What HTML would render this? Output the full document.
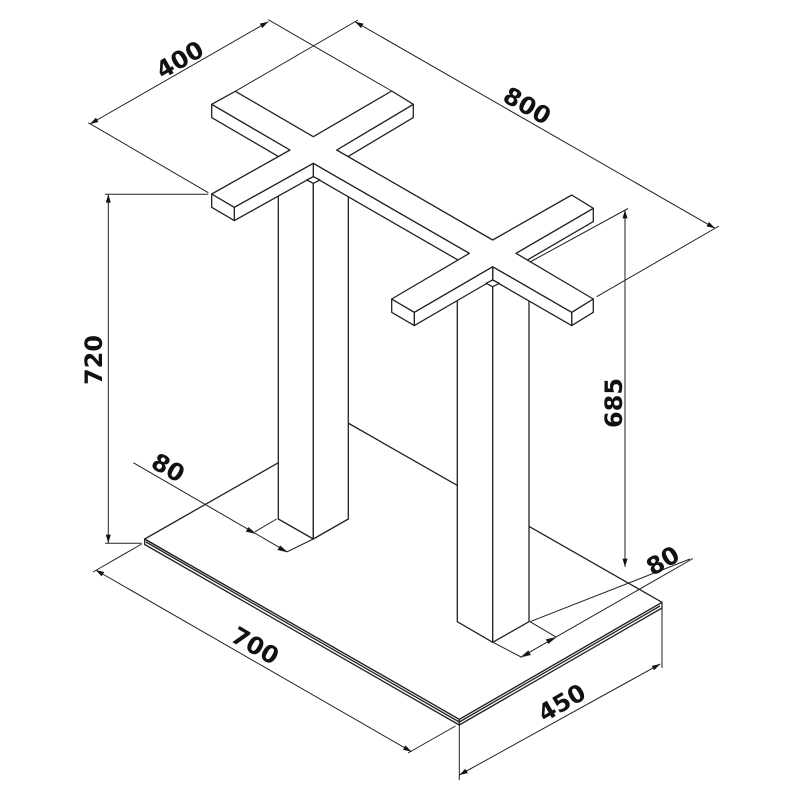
<!DOCTYPE html>
<html><head><meta charset="utf-8"><style>
html,body{margin:0;padding:0;background:#fff;}
svg{display:block;}
text{font-family:"DejaVu Sans","Liberation Sans",sans-serif;font-weight:bold;font-size:24px;fill:#111;}
</style></head><body>
<svg width="800" height="800" viewBox="0 0 800 800" xmlns="http://www.w3.org/2000/svg">
<defs>
<marker id="ar" viewBox="0 0 10 6" refX="10" refY="3" markerWidth="9" markerHeight="5" markerUnits="userSpaceOnUse" orient="auto-start-reverse">
<path d="M0,0 L10,3 L0,6 z" fill="#111"/></marker>
</defs>
<g stroke="#222" stroke-width="1.3" fill="#fff" stroke-linejoin="round">
<!-- base -->
<polygon points="144.7,539 459.3,719.3 459.3,725 144.7,544.5"/>
<polygon points="459.3,719.3 662,602.3 662,608 459.3,725"/>
<polygon points="144.7,539 348,423 662,602.3 459.3,719.3"/>
<line x1="146" y1="542" x2="459.3" y2="722"/>
<line x1="459.3" y1="722" x2="660" y2="606"/>
<!-- legs -->
<polygon points="278.3,190 313.3,170 313.3,539 278.3,519"/>
<polygon points="313.3,170 348.3,190 348.3,519 313.3,539"/>
<polygon points="457.3,290 492.7,270 492.7,642.3 457.3,621.7"/>
<polygon points="492.7,270 529,290 529,621.7 492.7,642.3"/>
<!-- side faces -->
<polygon points="290,150 211.7,104.3 211.7,117.6 290,163.3"/>
<polygon points="413.3,104.3 336.7,150 336.7,163.3 413.3,117.6"/>
<polygon points="593.3,208.3 516,253.3 516,266.6 593.3,221.6"/>
<polygon points="593.3,299 571.7,312.3 571.7,325.6 593.3,312.3"/>
<polygon points="571.7,312.3 492.7,266.7 492.7,280 571.7,325.6"/>
<polygon points="492.7,266.7 414.3,312.3 414.3,325.6 492.7,280"/>
<polygon points="414.3,312.3 391.7,299 391.7,312.3 414.3,325.6"/>
<polygon points="469.4,253.3 313.3,163.3 313.3,176.6 469.4,266.6"/>
<polygon points="313.3,163.3 234.3,207.3 234.3,220.6 313.3,176.6"/>
<polygon points="234.3,207.3 211.7,194 211.7,207.3 234.3,220.6"/>
<!-- top -->
<polygon points="211.7,104.3 235.3,91.3 313.3,136.7 391.7,91 413.3,104.3 336.7,150 492.7,240 571.7,195 593.3,208.3 516,253.3 593.3,299 571.7,312.3 492.7,266.7 414.3,312.3 391.7,299 469.4,253.3 313.3,163.3 234.3,207.3 211.7,194 290,150"/>
<polygon points="306.7,180 313.3,176.7 320,180 313.3,183.3"/>
<polygon points="486,283.3 492.7,280 499.3,283.3 492.7,286.7"/>
</g>
<g stroke="#222" stroke-width="1" fill="none">
<!-- 400 -->
<line x1="88.3" y1="122.7" x2="208.3" y2="192.7"/>
<line x1="268.3" y1="19.7" x2="391.7" y2="91"/>
<line x1="90" y1="124" x2="268.3" y2="21.7" marker-start="url(#ar)" marker-end="url(#ar)"/>
<!-- 800 -->
<line x1="235.3" y1="91.3" x2="358" y2="20"/>
<line x1="596.7" y1="296.7" x2="719" y2="226"/>
<line x1="355" y1="21.7" x2="715" y2="228.3" marker-start="url(#ar)" marker-end="url(#ar)"/>
<!-- 720 -->
<line x1="105" y1="194.3" x2="208.3" y2="194.3"/>
<line x1="105" y1="543.3" x2="141.7" y2="543.3"/>
<line x1="108.3" y1="194.3" x2="108.3" y2="543" marker-start="url(#ar)" marker-end="url(#ar)"/>
<!-- 685 -->
<line x1="530" y1="262" x2="628" y2="208.5"/>
<line x1="530" y1="621.7" x2="690" y2="559"/>
<line x1="625" y1="210" x2="625" y2="567" marker-start="url(#ar)" marker-end="url(#ar)"/>
<!-- 80 right -->
<line x1="493" y1="642.3" x2="522" y2="657.5"/>
<line x1="530" y1="621.7" x2="556" y2="637"/>
<line x1="521.7" y1="656.7" x2="693" y2="558.5"/>
<path d="M521.7,656.7 l8.5,-2 l-2,-3.5 z M555,637.7 l-8.5,2 l2,3.5 z" fill="#111"/>
<!-- 80 left -->
<line x1="276.7" y1="519" x2="255" y2="531.7"/>
<line x1="313.3" y1="539" x2="286.7" y2="552"/>
<line x1="133.3" y1="462.7" x2="286.7" y2="551.7"/>
<path d="M286.7,551.7 l-8.5,-2 l2,-3.5 z M255,533.3 l-8.5,-2 l2,-3.5 z" fill="#111"/>
<!-- 700 -->
<line x1="141.7" y1="544" x2="93" y2="572"/>
<line x1="455.5" y1="726" x2="408" y2="753"/>
<line x1="95.7" y1="570" x2="411.5" y2="751.7" marker-start="url(#ar)" marker-end="url(#ar)"/>
<!-- 450 -->
<line x1="459.3" y1="725" x2="459.3" y2="780"/>
<line x1="662" y1="608" x2="662" y2="668"/>
<line x1="459.3" y1="775" x2="660.2" y2="664" marker-start="url(#ar)" marker-end="url(#ar)"/>
</g>
<g text-anchor="middle" dominant-baseline="central">
<text transform="translate(180,60) rotate(-30)">400</text>
<text transform="translate(527,106) rotate(30)">800</text>
<text transform="translate(94,360) rotate(-90)">720</text>
<text transform="translate(614,403) rotate(-90)">685</text>
<text transform="translate(168,468) rotate(30)">80</text>
<text transform="translate(663,561) rotate(-30)">80</text>
<text transform="translate(255,646) rotate(30)">700</text>
<text transform="translate(562,703) rotate(-30)">450</text>
</g>
</svg>
</body></html>
